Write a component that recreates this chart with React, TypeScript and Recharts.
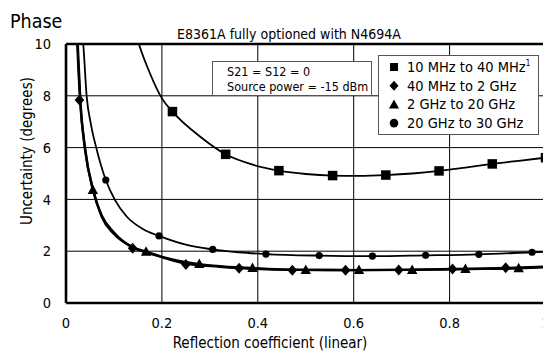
import React from 'react';
import { ComposedChart, Line, Scatter, XAxis, YAxis, CartesianGrid, ReferenceLine } from 'recharts';

const FONT = "'Liberation Sans Narrow', 'DejaVu Sans Condensed', 'Arial Narrow', sans-serif";

const xTicks = [0, 0.2, 0.4, 0.6, 0.8, 1];
const yTicks = [0, 2, 4, 6, 8, 10];

const seriesNames = ['10 MHz to 40 MHz', '40 MHz to 2 GHz', '2 GHz to 20 GHz', '20 GHz to 30 GHz'];

// 10 MHz to 40 MHz (squares)
const sqMarkX = [0.222, 0.333, 0.444, 0.556, 0.667, 0.778, 0.889, 1.0];
const sqMarkY = [7.39, 5.74, 5.11, 4.92, 4.94, 5.10, 5.37, 5.61];
const sqCurveX = [0.13, 0.152, 0.175, 0.2, 0.222, 0.28, 0.333, 0.391, 0.444, 0.5, 0.556, 0.611, 0.667, 0.722, 0.778, 0.833, 0.889, 0.944, 1.0];
const sqCurveY = [11.5, 10.0, 8.87, 7.9, 7.39, 6.42, 5.74, 5.33, 5.11, 4.98, 4.92, 4.91, 4.94, 5.0, 5.10, 5.23, 5.37, 5.49, 5.61];

// 40 MHz to 2 GHz (diamonds)
const diMarkX = [0.028, 0.139, 0.25, 0.361, 0.472, 0.583, 0.694, 0.806, 0.917];
const diMarkY = [7.84, 2.11, 1.49, 1.34, 1.26, 1.26, 1.27, 1.31, 1.36];
const diCurveX = [0.021, 0.0236, 0.0292, 0.0397, 0.057, 0.0745, 0.0987, 0.1405, 0.168, 0.196, 0.25, 0.32, 0.361, 0.472, 0.583, 0.694, 0.806, 0.917, 1.0];
const diCurveY = [11.3, 10.0, 7.88, 5.91, 4.36, 3.33, 2.69, 2.14, 1.95, 1.79, 1.52, 1.40, 1.35, 1.28, 1.27, 1.28, 1.31, 1.35, 1.40];

// 2 GHz to 20 GHz (triangles)
const trMarkX = [0.056, 0.167, 0.278, 0.389, 0.5, 0.611, 0.722, 0.833, 0.944];
const trMarkY = [4.36, 1.98, 1.51, 1.35, 1.27, 1.27, 1.27, 1.31, 1.34];
const trCurveX = [0.022, 0.0245, 0.03, 0.04, 0.056, 0.075, 0.1, 0.139, 0.167, 0.2, 0.278, 0.389, 0.5, 0.611, 0.722, 0.833, 0.944, 1.0];
const trCurveY = [11.0, 10.0, 7.8, 5.95, 4.36, 3.36, 2.72, 2.15, 1.98, 1.78, 1.50, 1.35, 1.28, 1.27, 1.28, 1.31, 1.34, 1.38];

// 20 GHz to 30 GHz (circles)
const ciMarkX = [0.083, 0.194, 0.306, 0.417, 0.528, 0.639, 0.75, 0.861, 0.972];
const ciMarkY = [4.75, 2.59, 2.07, 1.89, 1.83, 1.81, 1.84, 1.88, 1.96];
const ciCurveX = [0.033, 0.036, 0.043, 0.052, 0.063, 0.083, 0.102, 0.127, 0.161, 0.194, 0.252, 0.306, 0.36, 0.417, 0.528, 0.639, 0.75, 0.861, 0.972, 1.0];
const ciCurveY = [10.6, 10.0, 8.0, 6.9, 6.0, 4.75, 3.98, 3.33, 2.85, 2.59, 2.24, 2.07, 1.96, 1.89, 1.83, 1.81, 1.84, 1.88, 1.96, 1.98];

const zip = (xs: number[], ys: number[]) => xs.map((x, i) => ({ x, y: ys[i] }));

const sqMarks = zip(sqMarkX, sqMarkY);
const sqCurve = zip(sqCurveX, sqCurveY);
const diMarks = zip(diMarkX, diMarkY);
const diCurve = zip(diCurveX, diCurveY);
const trMarks = zip(trMarkX, trMarkY);
const trCurve = zip(trCurveX, trCurveY);
const ciMarks = zip(ciMarkX, ciMarkY);
const ciCurve = zip(ciCurveX, ciCurveY);

const SquareShape = (p: any) => <rect x={p.cx - 4.75} y={p.cy - 4.75} width={9.5} height={9.5} fill="#000" />;
const DiamondShape = (p: any) => (
  <polygon points={`${p.cx},${p.cy - 5.5} ${p.cx + 4.8},${p.cy} ${p.cx},${p.cy + 5.5} ${p.cx - 4.8},${p.cy}`} fill="#000" />
);
const TriangleShape = (p: any) => (
  <polygon points={`${p.cx},${p.cy - 5.5} ${p.cx + 5.2},${p.cy + 4} ${p.cx - 5.2},${p.cy + 4}`} fill="#000" />
);
const CircleShape = (p: any) => <circle cx={p.cx} cy={p.cy} r={3.6} fill="#000" />;

const legendIcons = [
  (x: number, y: number) => <rect x={x - 4} y={y - 4} width={8} height={8} fill="#000" />,
  (x: number, y: number) => <polygon points={`${x},${y - 5} ${x + 4.5},${y} ${x},${y + 5} ${x - 4.5},${y}`} fill="#000" />,
  (x: number, y: number) => <polygon points={`${x},${y - 5} ${x + 5},${y + 4} ${x - 5},${y + 4}`} fill="#000" />,
  (x: number, y: number) => <circle cx={x} cy={y} r={4.3} fill="#000" />,
];

export default function App() {
  return (
    <div style={{ position: 'absolute', left: 0, top: 0, width: 543, height: 354, overflow: 'hidden', background: '#fff' }}>
      <ComposedChart
        width={560}
        height={354}
        margin={{ top: 44, right: 14.5, bottom: 21, left: 6 }}
        style={{ fontFamily: FONT }}
      >
        <CartesianGrid stroke="#000" strokeWidth={1} />
        <XAxis
          dataKey="x"
          type="number"
          domain={[0, 1]}
          ticks={xTicks}
          allowDataOverflow
          height={30}
          tickLine={false}
          tickSize={0}
          tickMargin={15}
          axisLine={{ stroke: '#000', strokeWidth: 2.6 }}
          tick={{ fill: '#000', fontSize: 14.5, fontFamily: FONT }}
          interval={0}
        />
        <YAxis
          dataKey="y"
          type="number"
          domain={[0, 10]}
          ticks={yTicks}
          allowDataOverflow
          width={60}
          tickLine={false}
          tickSize={0}
          tickMargin={15}
          axisLine={{ stroke: '#000', strokeWidth: 2.6 }}
          tick={{ fill: '#000', fontSize: 14.5, fontFamily: FONT }}
          interval={0}
        />
        <ReferenceLine y={10} stroke="#000" strokeWidth={2.6} />
        <Line data={sqCurve} dataKey="y" type="monotone" dot={false} stroke="#000" strokeWidth={1.8} isAnimationActive={false} />
        <Line data={ciCurve} dataKey="y" type="monotone" dot={false} stroke="#000" strokeWidth={1.8} isAnimationActive={false} />
        <Line data={diCurve} dataKey="y" type="monotone" dot={false} stroke="#000" strokeWidth={2.4} isAnimationActive={false} />
        <Line data={trCurve} dataKey="y" type="monotone" dot={false} stroke="#000" strokeWidth={2.4} isAnimationActive={false} />
        <Scatter name={seriesNames[0]} data={sqMarks} dataKey="y" shape={SquareShape} isAnimationActive={false} />
        <Scatter name={seriesNames[1]} data={diMarks} dataKey="y" shape={DiamondShape} isAnimationActive={false} />
        <Scatter name={seriesNames[2]} data={trMarks} dataKey="y" shape={TriangleShape} isAnimationActive={false} />
        <Scatter name={seriesNames[3]} data={ciMarks} dataKey="y" shape={CircleShape} isAnimationActive={false} />
      </ComposedChart>
      <svg width={543} height={354} style={{ position: 'absolute', left: 0, top: 0, pointerEvents: 'none' }}>
        <text x={10} y={28} fontFamily={FONT} fontSize={19.5} fill="#000">Phase</text>
        <text x={289} y={38.5} textAnchor="middle" fontFamily={FONT} fontSize={14} fill="#000">E8361A fully optioned with N4694A</text>
        <text transform="translate(32,151) rotate(-90)" textAnchor="middle" fontFamily={FONT} fontSize={15} fill="#000">Uncertainty (degrees)</text>
        <text x={270} y={348} textAnchor="middle" fontFamily={FONT} fontSize={15} fill="#000">Reflection coefficient (linear)</text>
        <rect x={212.5} y={61.5} width={159} height={34} fill="#fff" stroke="#555" strokeWidth={1} />
        <text x={227} y={76} fontFamily={FONT} fontSize={12.5} fill="#000">S21 = S12 = 0</text>
        <text x={227} y={91} fontFamily={FONT} fontSize={12.5} fill="#000">Source power = -15 dBm</text>
        <g transform="translate(378,55)">
          <rect x={0.5} y={0.5} width={160} height={79} fill="#fff" stroke="#555" strokeWidth={1} />
          {seriesNames.map((name, i) => {
            const base = 17 + i * 18.7;
            return (
              <g key={name}>
                {legendIcons[i](16, base - 5)}
                <text x={29} y={base} fontFamily={FONT} fontSize={14.5} fill="#000">
                  {name}
                  {i === 0 ? <tspan fontSize={8} dy={-6}>1</tspan> : null}
                </text>
              </g>
            );
          })}
        </g>
      </svg>
    </div>
  );
}
